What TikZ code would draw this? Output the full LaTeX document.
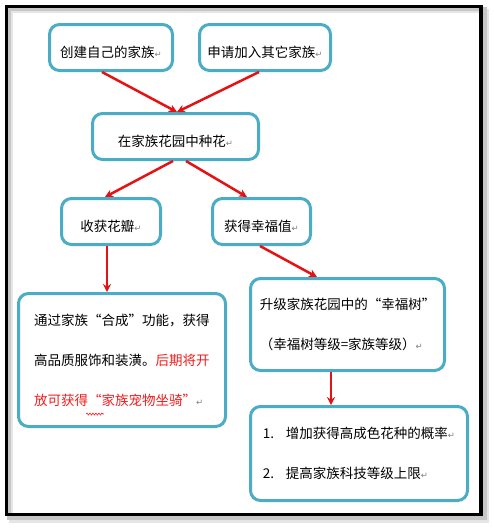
\documentclass[tikz,border=0pt]{standalone}
\usepackage{fontspec}
\newfontfamily\cjk{Noto Sans CJK SC}
\newfontfamily\dejavu{DejaVu Sans}
\usetikzlibrary{arrows.meta,decorations.pathmorphing}
\definecolor{boxblue}{RGB}{75,172,198}
\definecolor{arrowred}{RGB}{228,18,18}
\definecolor{notered}{RGB}{240,30,30}
\newcommand{\retmark}{{\dejavu\fontsize{8.5}{8}\selectfont\textcolor{black!50}{↵}}}
\begin{document}
\begin{tikzpicture}[x=1pt, y=-1pt, >={Stealth[length=8pt,width=8pt]},
  stagebox/.style={draw=boxblue, line width=3pt, rounded corners=10pt, fill=white, align=left,
    font=\cjk\fontsize{13.5}{40}\selectfont, execute at begin node={\rule{0pt}{22pt}}, inner sep=0pt},
  flowarrow/.style={draw=arrowred, line width=2.5pt, ->}]
\useasboundingbox (0,0) rectangle (494,531);
% frame and its shadow
\draw[black!10, line width=4pt] (11,11) rectangle (487,521);
\draw[black!22, line width=4pt] (9,9) rectangle (485,518);
\draw[black, line width=3.5pt] (6.5,6.5) rectangle (481,514.5);
% boxes
\node[stagebox, minimum width=123pt, minimum height=46pt] (create) at (111,47.5) {创建自己的家族\retmark};
\node[stagebox, minimum width=131pt, minimum height=46pt] (apply) at (265,47.5) {申请加入其它家族\retmark};
\node[stagebox, minimum width=166pt, minimum height=46pt] (garden) at (175.5,136.5) {在家族花园中种花\retmark};
\node[stagebox, minimum width=99pt, minimum height=46pt] (harvest) at (111,221.5) {收获花瓣\retmark};
\node[stagebox, minimum width=98pt, minimum height=46pt] (happiness) at (261.5,221.5) {获得幸福值\retmark};
\node[stagebox, minimum width=207pt, minimum height=133pt] (petal) at (122,360) {通过家族“合成”功能，获得\\高品质服饰和装潢。\textcolor{notered}{后期将开}\\\textcolor{notered}{放可获得“家族宠物坐骑”}\retmark};
\node[stagebox, minimum width=194pt, minimum height=92pt] (tree) at (347.5,324.5) {升级家族花园中的“幸福树”\\（幸福树等级=家族等级）\retmark};
\node[stagebox, minimum width=217pt, minimum height=94pt] (bonus) at (359,453.5) {\makebox[23pt][l]{1.}增加获得高成色花种的概率\retmark\\\makebox[23pt][l]{2.}提高家族科技等级上限\retmark};
% spell-check mark
\draw[notered, line width=0.6pt, decorate, decoration={snake, amplitude=1pt, segment length=3pt}] (86,414) -- (104,414);
% arrows
\draw[flowarrow] ([xshift=-9pt]create.south) -- ([xshift=1.5pt]garden.north);
\draw[flowarrow] ([xshift=-6pt]apply.south) -- ([xshift=1.5pt]garden.north);
\draw[flowarrow] ([xshift=-2.5pt]garden.south) -- ([xshift=-6pt]harvest.north);
\draw[flowarrow] ([xshift=10.5pt]garden.south) -- ([xshift=-14.5pt]happiness.north);
\draw[flowarrow] ([xshift=-4pt]harvest.south) -- ([xshift=-15pt]petal.north);
\draw[flowarrow] ([xshift=-1.5pt]happiness.south) -- ([xshift=-30.5pt]tree.north);
\draw[flowarrow] ([xshift=-16.5pt]tree.south) -- ([xshift=-28pt]bonus.north);
\end{tikzpicture}
\end{document}
